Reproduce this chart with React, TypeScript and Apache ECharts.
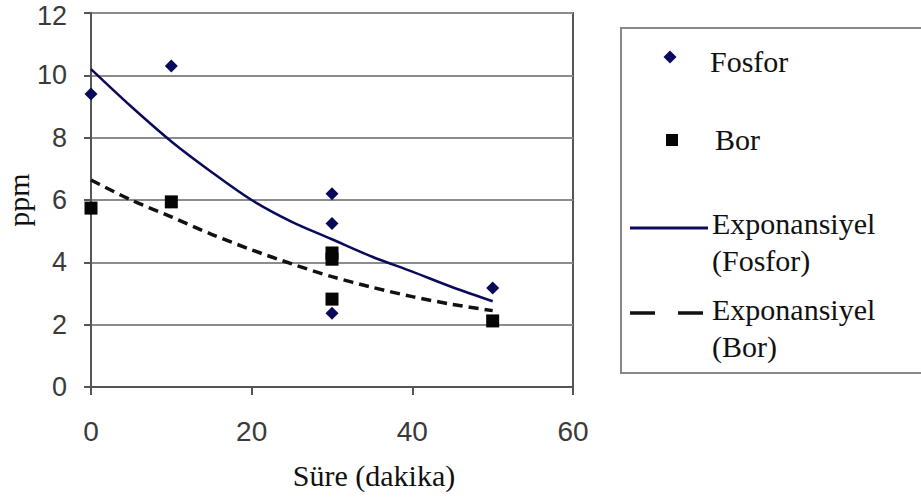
import React, { useEffect, useRef } from "react";
import * as echarts from "echarts";

const fosforPoints: [number, number][] = [
  [0, 9.4],
  [10, 10.3],
  [30, 6.2],
  [30, 5.25],
  [30, 2.37],
  [50, 3.18],
];
const borPoints: [number, number][] = [
  [0, 5.74],
  [10, 5.94],
  [30, 4.3],
  [30, 4.1],
  [30, 2.82],
  [50, 2.12],
];
const trendX = [0, 5, 10, 15, 20, 25, 30, 35, 40, 45, 50];
const fosforTrend = [10.2, 9.0, 7.88, 6.9, 6.0, 5.3, 4.74, 4.18, 3.7, 3.2, 2.75];
const borTrend = [6.64, 6.0, 5.46, 4.9, 4.4, 3.95, 3.54, 3.2, 2.9, 2.65, 2.45];
const xTicks = [0, 20, 40, 60];
const yTicks = [0, 2, 4, 6, 8, 10, 12];
const legendLabels = ["Fosfor", "Bor", "Exponansiyel\n(Fosfor)", "Exponansiyel\n(Bor)"];

const SERIF = "Liberation Serif, Tinos, Times New Roman, DejaVu Serif, serif";
const SANS = "Liberation Sans, Arial, sans-serif";
const NAVY = "#0a0a5a";

export default function App() {
  const ref = useRef<HTMLDivElement>(null);
  useEffect(() => {
    if (!ref.current) return;
    const chart = echarts.init(ref.current, undefined, { renderer: "svg" });
    const yMax = yTicks[yTicks.length - 1];
    const legendText = (text: string, x: number, y: number) => ({
      type: "text",
      x,
      y,
      z: 11,
      style: {
        text,
        fontFamily: SERIF,
        fontSize: 30,
        fill: "#111",
        verticalAlign: "middle",
        align: "left",
        lineHeight: 37,
      },
    });
    chart.setOption({
      animation: false,
      backgroundColor: "#fff",
      grid: {
        left: 91,
        top: 13,
        right: 348,
        bottom: 111,
        show: true,
        borderColor: "#555",
        borderWidth: 2,
        containLabel: false,
        outerBoundsMode: "none",
      },
      xAxis: {
        type: "value",
        min: xTicks[0],
        max: xTicks[xTicks.length - 1],
        interval: 20,
        name: "Süre (dakika)",
        nameLocation: "middle",
        nameGap: 73,
        nameMoveOverlap: false,
        nameTextStyle: {
          fontFamily: SERIF,
          fontSize: 30,
          lineHeight: 30,
          color: "#111",
          padding: [0, 0, 0, 84],
        },
        axisLine: { lineStyle: { color: "#555", width: 2 } },
        axisTick: { show: true, length: 8, lineStyle: { color: "#555", width: 2 } },
        axisLabel: { fontFamily: SANS, fontSize: 28, lineHeight: 22, color: "#3a3a3a", margin: 33 },
        splitLine: { show: false },
      },
      yAxis: {
        type: "value",
        min: yTicks[0],
        max: yMax,
        interval: 2,
        name: "ppm",
        nameLocation: "middle",
        nameGap: 60,
        nameMoveOverlap: false,
        nameTextStyle: { fontFamily: SERIF, fontSize: 30, lineHeight: 26, color: "#111" },
        axisLine: { lineStyle: { color: "#555", width: 2 } },
        axisTick: { show: true, length: 7, lineStyle: { color: "#555", width: 2 } },
        axisLabel: {
          fontFamily: SANS,
          fontSize: 27,
          lineHeight: 20,
          color: "#3a3a3a",
          margin: 24,
          formatter: (v: number) => (v === yMax ? `{top|${v}}` : String(v)),
          rich: {
            top: {
              fontFamily: SANS,
              fontSize: 27,
              lineHeight: 20,
              color: "#3a3a3a",
              padding: [6, 0, 0, 0],
            },
          },
        },
        splitLine: { show: true, lineStyle: { color: "#8c8c8c", width: 2 } },
      },
      series: [
        {
          name: "Exponansiyel (Fosfor)",
          type: "line",
          data: trendX.map((x, i) => [x, fosforTrend[i]]),
          smooth: 0.3,
          symbol: "none",
          lineStyle: { color: NAVY, width: 2.5 },
          z: 2,
        },
        {
          name: "Exponansiyel (Bor)",
          type: "line",
          data: trendX.map((x, i) => [x, borTrend[i]]),
          smooth: 0.3,
          symbol: "none",
          lineStyle: { color: "#111", width: 3.5, type: [10, 6] },
          z: 2,
        },
        {
          name: "Fosfor",
          type: "scatter",
          data: fosforPoints,
          symbol: "diamond",
          symbolSize: 13,
          itemStyle: { color: NAVY, opacity: 1 },
          z: 3,
        },
        {
          name: "Bor",
          type: "scatter",
          data: borPoints,
          symbol: "rect",
          symbolSize: 13,
          itemStyle: { color: "#050505", opacity: 1 },
          z: 3,
        },
      ],
      graphic: [
        {
          type: "rect",
          shape: { x: 621, y: 28, width: 320, height: 345 },
          style: { fill: "#fff", stroke: "#888", lineWidth: 2 },
          z: 10,
        },
        {
          type: "polygon",
          shape: { points: [[670, 50.5], [676.5, 57], [670, 63.5], [663.5, 57]] },
          style: { fill: NAVY },
          z: 11,
        },
        legendText(legendLabels[0], 710, 61),
        {
          type: "rect",
          shape: { x: 666, y: 134, width: 12, height: 12 },
          style: { fill: "#050505" },
          z: 11,
        },
        legendText(legendLabels[1], 715, 139),
        {
          type: "line",
          shape: { x1: 630, y1: 228, x2: 708, y2: 228 },
          style: { stroke: NAVY, lineWidth: 3 },
          z: 11,
        },
        legendText(legendLabels[2], 712, 241.5),
        {
          type: "line",
          shape: { x1: 630, y1: 313, x2: 708, y2: 313 },
          style: { stroke: "#111", lineWidth: 3.5, lineDash: [25, 23] },
          z: 11,
        },
        legendText(legendLabels[3], 712, 327.5),
      ],
    });
    return () => chart.dispose();
  }, []);
  return (
    <div
      ref={ref}
      style={{ position: "fixed", left: 0, top: 0, width: 921, height: 498 }}
    />
  );
}
